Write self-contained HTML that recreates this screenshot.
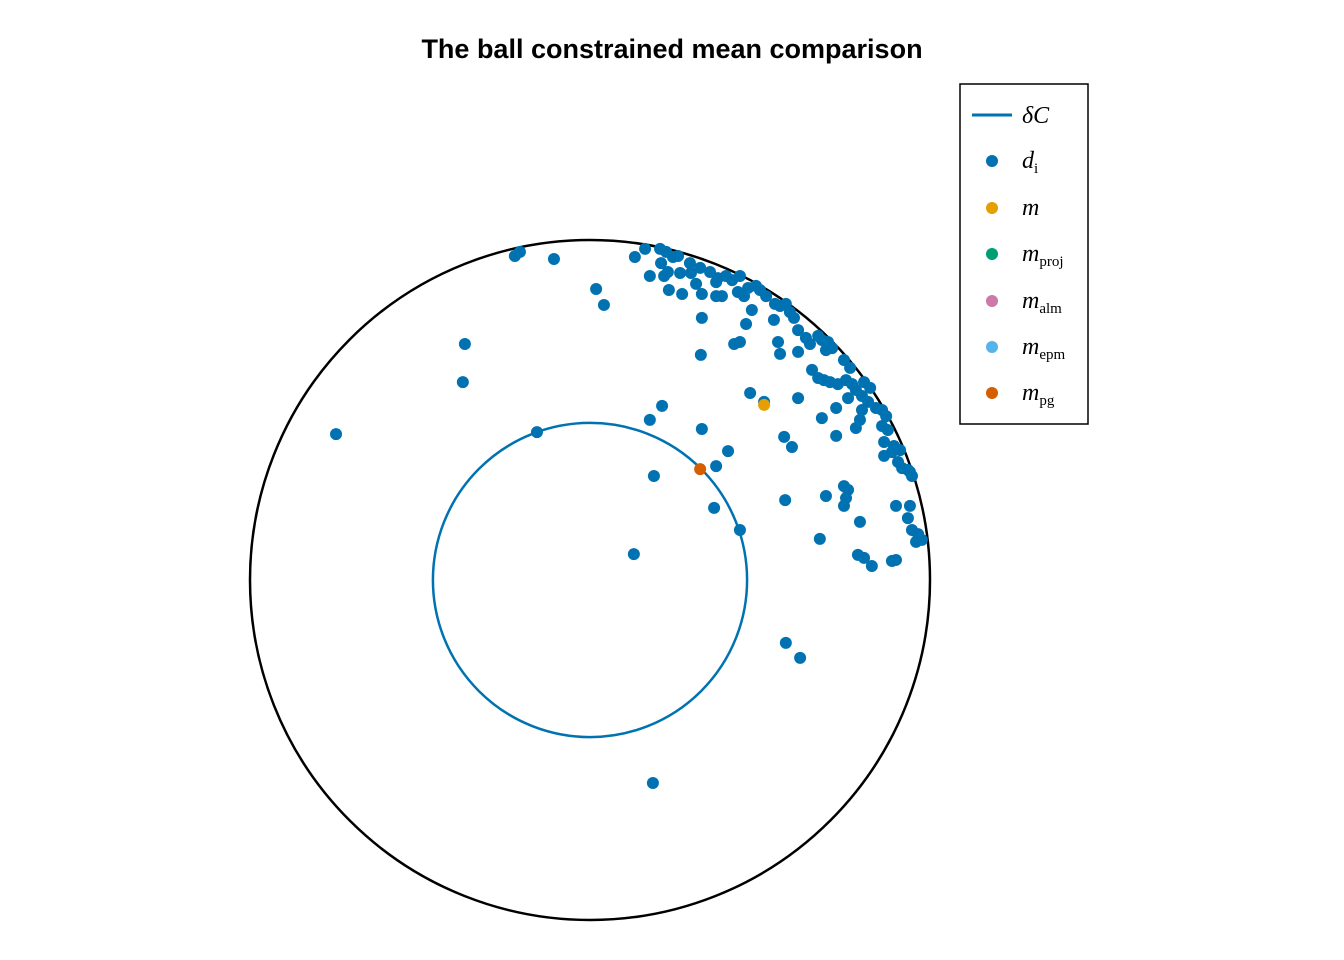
<!DOCTYPE html>
<html><head><meta charset="utf-8"><style>
html,body{margin:0;padding:0;background:#fff;}
svg{display:block;}
.lg{font-family:"Liberation Serif",serif;font-style:italic;font-size:24px;fill:#000;}
.sub{font-style:normal;font-size:15px;}
</style></head><body>
<svg id="chart" width="1344" height="960">
<text x="672" y="58" text-anchor="middle" font-family="Liberation Sans, sans-serif" font-weight="bold" font-size="27">The ball constrained mean comparison</text>
<g id="plot"></g>
<g>
<rect x="960" y="84" width="128" height="340" fill="#fff" stroke="#000" stroke-width="1.5"/>
<line x1="972" y1="115" x2="1012" y2="115" stroke="#0072b2" stroke-width="3"/>
<text class="lg" x="1022" y="123">δC</text>
<circle cx="992" cy="161" r="6" fill="#0072b2"/>
<text class="lg" x="1022" y="168">d<tspan class="sub" dy="5">i</tspan></text>
<circle cx="992" cy="208" r="6" fill="#e69f00"/>
<text class="lg" x="1022" y="215">m</text>
<circle cx="992" cy="254" r="6" fill="#009e73"/>
<text class="lg" x="1022" y="261">m<tspan class="sub" dy="5">proj</tspan></text>
<circle cx="992" cy="301" r="6" fill="#cc79a7"/>
<text class="lg" x="1022" y="308">m<tspan class="sub" dy="5">alm</tspan></text>
<circle cx="992" cy="347" r="6" fill="#56b4e9"/>
<text class="lg" x="1022" y="354">m<tspan class="sub" dy="5">epm</tspan></text>
<circle cx="992" cy="393" r="6" fill="#d55e00"/>
<text class="lg" x="1022" y="400">m<tspan class="sub" dy="5">pg</tspan></text>
</g>
</svg>
<script>
const ballRadius = 1;
const constraintRadius = 0.462;
const pixelPoints = [[336,434],[465,344],[463,382],[515,256],[520,252],[554,259],[596,289],[604,305],[537,432],[635,257],[645,249],[660,249],[666,252],[673,257],[678,256],[650,276],[664,276],[668,272],[661,263],[680,273],[691,273],[669,290],[682,294],[696,284],[690,263],[700,268],[710,272],[718,278],[702,294],[716,296],[722,296],[716,282],[726,276],[732,280],[740,276],[738,292],[744,296],[748,288],[756,286],[760,290],[766,296],[752,310],[746,324],[702,318],[701,355],[734,344],[740,342],[775,304],[780,306],[786,304],[790,312],[794,318],[774,320],[798,330],[778,342],[780,354],[798,352],[806,338],[810,344],[818,336],[822,340],[828,342],[832,348],[826,350],[812,370],[818,378],[824,380],[830,382],[844,360],[850,368],[846,380],[852,384],[856,390],[864,382],[870,388],[862,396],[868,402],[876,408],[882,410],[886,416],[862,410],[838,384],[848,398],[836,408],[860,420],[856,428],[822,418],[836,436],[882,426],[888,430],[884,442],[894,446],[892,452],[900,450],[884,456],[898,462],[902,468],[910,472],[912,476],[908,470],[798,398],[750,393],[764,402],[662,406],[650,420],[702,429],[728,451],[716,466],[654,476],[784,437],[792,447],[826,496],[844,486],[848,490],[846,498],[844,506],[860,522],[785,500],[714,508],[740,530],[820,539],[858,555],[864,558],[872,566],[892,561],[896,560],[896,506],[910,506],[908,518],[912,530],[918,534],[922,540],[916,542],[634,554],[786,643],[800,658],[653,783]];
// data values (unit disk coordinates)
const dataX = pixelPoints.map(p => +((p[0]-590)/340).toFixed(3));
const dataY = pixelPoints.map(p => +((580-p[1])/340).toFixed(3));
const meanX = [0.512], meanY = [0.515];
const pgX = [0.324], pgY = [0.326];

const CX = 590, CY = 580, R = 340;
const sx = v => CX + v*R;
const sy = v => CY - v*R;
const NS = "http://www.w3.org/2000/svg";
const g = document.getElementById('plot');
function mk(tag, attrs){const e=document.createElementNS(NS,tag);for(const k in attrs)e.setAttribute(k,attrs[k]);g.appendChild(e);return e;}

let c = mk('circle',{cx:sx(0),cy:sy(0),r:ballRadius*R,fill:'none',stroke:'#000','stroke-width':2.5});


c = mk('circle',{cx:sx(0),cy:sy(0),r:constraintRadius*R,fill:'none',stroke:'#0072b2','stroke-width':2.5});



for(let i=0;i<dataX.length;i++){
  const p = mk('circle',{cx:sx(dataX[i]),cy:sy(dataY[i]),r:6,fill:'#0072b2'});
  
  
}
for(let i=0;i<meanX.length;i++){
  const p = mk('circle',{cx:sx(meanX[i]),cy:sy(meanY[i]),r:6,fill:'#e69f00'});
  
  
}
for(let i=0;i<pgX.length;i++){
  const p = mk('circle',{cx:sx(pgX[i]),cy:sy(pgY[i]),r:6,fill:'#d55e00'});
  
  
}
</script>
</body></html>
